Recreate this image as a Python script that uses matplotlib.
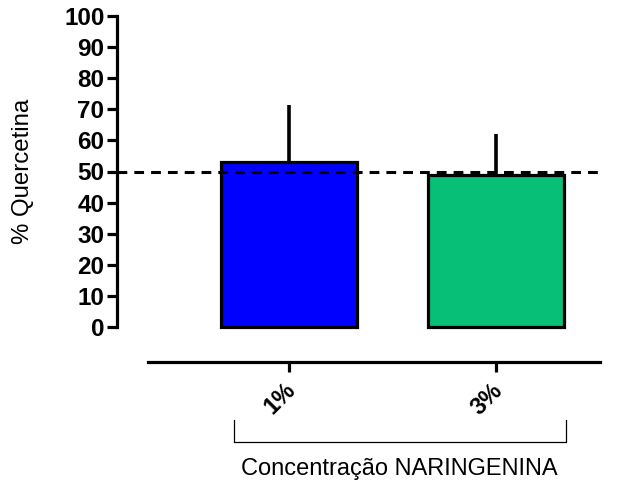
import matplotlib
matplotlib.use("Agg")
import matplotlib.pyplot as plt
import matplotlib.transforms as mtransforms

categories = ["1%", "3%"]
means = [53.0, 49.0]
sds = [18.5, 13.0]
colors = ["#0000FF", "#08BF78"]
reference = 50
yticks = list(range(0, 101, 10))

plt.rcParams['font.family'] = ['Liberation Sans', 'DejaVu Sans']

W, H = 627, 499
fig = plt.figure(figsize=(W / 100, H / 100), dpi=100)

def fx(px):
    return px / W

def fy(py):
    return 1 - py / H

ax = fig.add_axes([fx(117), fy(327), fx(600) - fx(117), fy(16) - fy(327)])
x = [0, 1]
ax.bar(x, means, width=0.657, color=colors, edgecolor="black", linewidth=2.3, zorder=3, clip_on=False)
ax.errorbar(x, means, yerr=[[0, 0], sds], fmt="none", ecolor="black", elinewidth=2.6, capsize=0, zorder=2)
ax.axhline(reference, color="black", linestyle=(0, (3.2, 2.3)), linewidth=2.2, zorder=4)

ax.set_xlim(-0.831, 1.502)
ax.set_ylim(0, 100)
ax.set_yticks(yticks)
ax.set_yticklabels([str(t) for t in yticks], fontsize=17.5, fontweight="bold")
ax.tick_params(axis="y", length=7, width=2.3, pad=2)

for s in ["top", "right"]:
    ax.spines[s].set_visible(False)
ax.spines["left"].set_linewidth(2.3)
ax.spines["bottom"].set_position(("outward", 25.5))
ax.spines["bottom"].set_bounds(-0.681, 1.502)
ax.spines["bottom"].set_linewidth(2.3)
ax.set_xticks(x)
ax.set_xticklabels(categories, fontsize=17, fontweight="bold")
ax.tick_params(axis="x", length=7, width=2.3, pad=10.5)
shift = mtransforms.ScaledTranslation(3 / 100, 0, fig.dpi_scale_trans)
for lbl in ax.get_xticklabels():
    lbl.set_rotation(45)
    lbl.set_rotation_mode("anchor")
    lbl.set_ha("right")
    lbl.set_va("center")
    lbl.set_transform(lbl.get_transform() + shift)

fig.text(fx(23), fy(171.5), "% Quercetina", rotation=90, fontsize=17.3, ha="center", va="center")
fig.text(fx(399), fy(469), "Concentração NARINGENINA", fontsize=17, ha="center", va="center")

# bracket
bx0, bx1, by0, by1 = fx(234), fx(566), fy(420), fy(442)
fig.add_artist(plt.Line2D([bx0, bx0, bx1, bx1], [by0, by1, by1, by0], color="black", linewidth=0.9, transform=fig.transFigure))

fig.savefig("out.png", dpi=100)
